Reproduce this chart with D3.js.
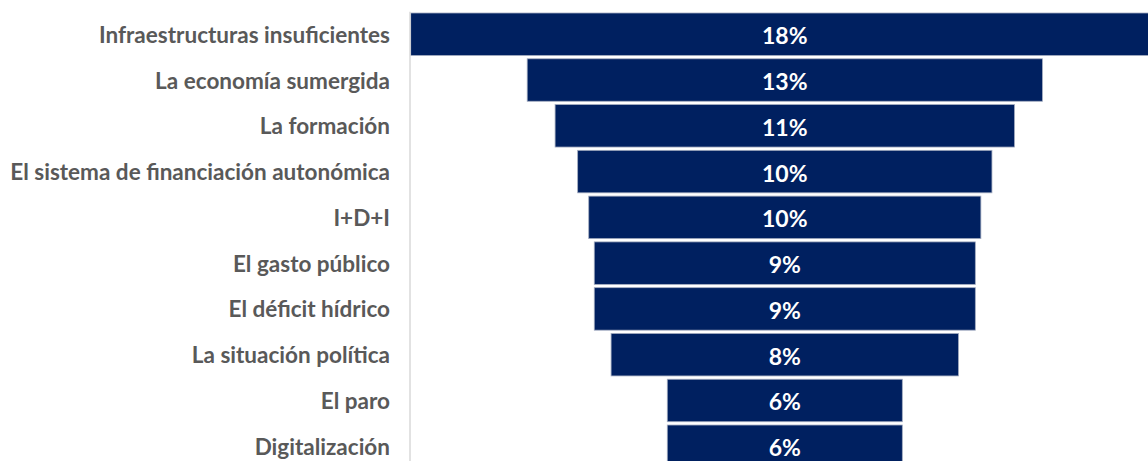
<!DOCTYPE html>
<html>
<head>
<meta charset="utf-8">
<script src="https://cdn.jsdelivr.net/npm/d3@7"></script>
<style>
    body { margin: 0; background: #ffffff; }
    svg { display: block; }
    .funnel__label { font-family: Lato, "Open Sans", sans-serif; font-weight: bold; fill: #595959; }
    .funnel__value { font-family: Lato, "Open Sans", sans-serif; font-weight: bold; fill: #ffffff; font-size: 23px; }
    .funnel__bar { fill: #002060; stroke: #a3acc0; stroke-width: 0.8; }
    .funnel__axis path { stroke: #d9d9d9; stroke-width: 1.5; }
</style>
</head>
<body>
<svg id="chart" width="1148" height="461"></svg>
<script>
    'use strict';

    const categories = [
        'Infraestructuras insuficientes',
        'La economía sumergida',
        'La formación',
        'El sistema de financiación autonómica',
        'I+D+I',
        'El gasto público',
        'El déficit hídrico',
        'La situación política',
        'El paro',
        'Digitalización'
    ];
    const shares = [18.24, 12.56, 11.2, 10.1, 9.56, 9.29, 9.29, 8.47, 5.73, 5.73];
    const valueLabels = ['18%', '13%', '11%', '10%', '10%', '9%', '9%', '8%', '6%', '6%'];

    const LAYOUT = {
        AXIS_X: 409.5,
        LEFT: 410.7,
        RIGHT: 1158.9,
        TOP: 11.35,
        BOTTOM: 469.15,
        LABEL_RIGHT: 390,
        LABEL_MAX_WIDTH: 380
    };

    const rows = categories.map((name, i) => ({ name: name, share: shares[i], label: valueLabels[i] }));
    const maxShare = d3.max(shares);

    const svg = d3.select('#chart');

    // funnel: each bar is centred, so scale half widths around zero
    const x = d3.scaleLinear()
        .domain([-maxShare / 2, maxShare / 2])
        .range([LAYOUT.LEFT, LAYOUT.RIGHT]);

    const y = d3.scaleBand()
        .domain(categories)
        .range([LAYOUT.TOP, LAYOUT.BOTTOM])
        .paddingInner(0.072)
        .paddingOuter(0.036);

    svg.append('g')
        .attr('class', 'funnel__bars')
        .selectAll('rect')
        .data(rows)
        .enter()
        .append('rect')
        .attr('class', 'funnel__bar')
        .attr('x', d => x(-d.share / 2))
        .attr('y', d => y(d.name))
        .attr('width', d => x(d.share / 2) - x(-d.share / 2))
        .attr('height', y.bandwidth());

    const axis = svg.append('g')
        .attr('class', 'funnel__axis')
        .attr('transform', `translate(${LAYOUT.AXIS_X},0)`)
        .call(d3.axisLeft(y).tickSize(0).tickPadding(LAYOUT.AXIS_X - LAYOUT.LABEL_RIGHT));

    let labels = axis.selectAll('.tick text')
        .attr('class', 'funnel__label')
        .attr('font-size', 20)
        .attr('dy', null)
        .attr('y', 8.5);

    // size the labels so the longest one fills the left margin
    let longest = 0;
    labels.each(function () { longest = Math.max(longest, this.getComputedTextLength()); });
    labels.attr('font-size', 20 * LAYOUT.LABEL_MAX_WIDTH / longest);
    axis.attr('font-family', null).attr('font-size', null);

    svg.append('g')
        .attr('class', 'funnel__values')
        .selectAll('text')
        .data(rows)
        .enter()
        .append('text')
        .attr('class', 'funnel__value')
        .attr('text-anchor', 'middle')
        .attr('x', x(0))
        .attr('y', d => y(d.name) + y.bandwidth() / 2 + 10)
        .text(d => d.label);
</script>
</body>
</html>
